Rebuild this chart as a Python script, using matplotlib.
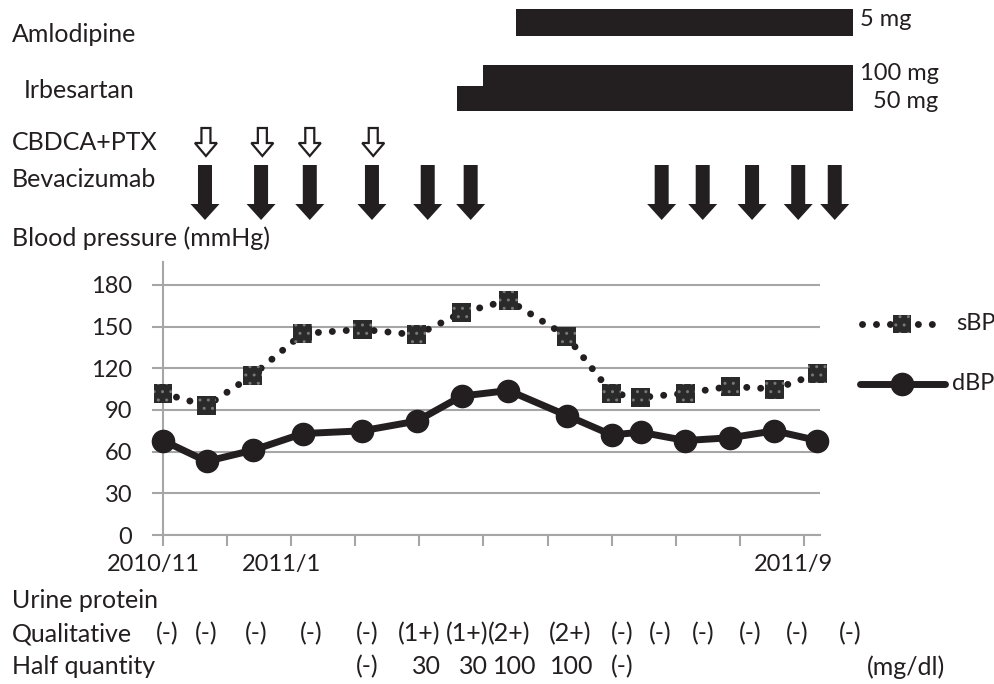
import matplotlib
matplotlib.use("Agg")
import matplotlib.pyplot as plt
import matplotlib.transforms as mtransforms
from matplotlib.patches import Rectangle, Polygon

plt.rcParams['font.family'] = ['Lato', 'DejaVu Sans']

# time in months from 2010/11/1
visit_month = [0.0, 0.68, 1.40, 2.18, 3.11, 3.96, 4.66, 5.39, 6.30, 7.00, 7.45, 8.15, 8.85, 9.54, 10.21]
sbp = [102, 93, 115, 145, 148, 144, 160, 169, 143, 102, 99, 102, 107, 105, 116]
dbp = [68, 53, 61, 73, 75, 82, 100, 104, 86, 72, 74, 68, 70, 75, 68]

month_ticks = list(range(11))
month_labels = ['2010/11', '', '2011/1', '', '', '', '', '', '', '', '2011/9']

bev_month = [0.655, 1.53, 2.29, 3.26, 4.13, 4.80, 7.78, 8.42, 9.19, 9.91, 10.48]
cbdca_month = [0.67, 1.55, 2.29, 3.28]

amlo_start, amlo_end = 5.51, 10.76
irb50_start, irb100_start, irb_end = 4.59, 4.99, 10.76

qual = ['(-)', '(-)', '(-)', '(-)', '(-)', '(1+)', '(1+)', '(2+)', '(2+)',
        '(-)', '(-)', '(-)', '(-)', '(-)', '(-)']
half = ['', '', '', '', '(-)', '30', '30', '100', '100', '(-)', '', '', '', '', '']
# text columns of the urine table, in pixels from the left
qual_px = [167, 206, 256, 311, 367, 419, 467, 509, 570, 622, 660, 703, 750, 797, 850]
half_px = [167, 206, 256, 311, 367, 426, 473, 515, 572, 622, 660, 703, 750, 797, 850]

W, H = 995, 684
dark = '#231f20'
grid_col = '#a6a6a6'
dots = (0, (0.01, 2.0))

fig = plt.figure(figsize=(W / 100, H / 100), dpi=100)

# main blood pressure chart
ax = fig.add_axes([163 / W, 149 / H, 657 / W, 273 / H])
ax.set_xlim(0, 10.25)
ax.set_ylim(0, 196.5)
ax.set_yticks(range(0, 181, 30))
ax.yaxis.grid(True, color=grid_col, lw=1.5)
ax.set_axisbelow(True)
for s in ['top', 'right']:
    ax.spines[s].set_visible(False)
for s in ['left', 'bottom']:
    ax.spines[s].set_color(grid_col)
    ax.spines[s].set_linewidth(1.5)
ax.set_xticks(month_ticks)
ax.set_xticklabels(month_labels)
ax.tick_params(axis='both', length=8, width=1.5, color=grid_col, labelsize=17,
               labelcolor=dark)
ax.tick_params(axis='y', pad=14)
ax.tick_params(axis='x', pad=6)
shift = mtransforms.ScaledTranslation(-10 / 100, 0, fig.dpi_scale_trans)
for lab in ax.get_xticklabels():
    lab.set_transform(lab.get_transform() + shift)

ax.plot(visit_month, sbp, color=dark, lw=5, linestyle=dots,
        dash_capstyle='round', zorder=3, clip_on=False)
ax.scatter(visit_month, sbp, marker='s', s=185, facecolor='#2a2a2a', edgecolor='#777777',
           linewidths=0, hatch='..', zorder=4, clip_on=False)
ax.plot(visit_month, dbp, color=dark, lw=5, marker='o', ms=16, zorder=5, clip_on=False)

# treatment band on top, shares the month scale
top = fig.add_axes([163 / W, (H - 230) / H, 657 / W, 230 / H], sharex=ax)
top.set_ylim(230, 0)
top.axis('off')

top.add_patch(Rectangle((amlo_start, 9), amlo_end - amlo_start, 27, color=dark, lw=0, clip_on=False))
top.add_patch(Rectangle((irb100_start, 65), irb_end - irb100_start, 23, color=dark, lw=0, clip_on=False))
top.add_patch(Rectangle((irb50_start, 86), irb_end - irb50_start, 25, color=dark, lw=0, clip_on=False))

px = 10.25 / 657  # months per pixel


def arrow(c, y0, y1, y2, shaft, head, **kw):
    hs, hh = shaft / 2 * px, head / 2 * px
    pts = [(c - hs, y0), (c + hs, y0), (c + hs, y1), (c + hh, y1), (c, y2), (c - hh, y1), (c - hs, y1)]
    top.add_patch(Polygon(pts, closed=True, clip_on=False, **kw))


for c in bev_month:
    arrow(c, 165, 204, 220, 14, 29, facecolor=dark, edgecolor='none')
for c in cbdca_month:
    arrow(c, 128, 143, 156, 9, 22, facecolor='white', edgecolor=dark, lw=1.6, joinstyle='miter')


# texts in pixel coordinates
def ftext(x, y, s, size=18, **kw):
    fig.text(x / W, 1 - y / H, s, va='center', color=dark, fontsize=size, **kw)


ftext(12, 35, 'Amlodipine')
ftext(24, 91, 'Irbesartan')
ftext(12, 143, 'CBDCA+PTX')
ftext(12, 180, 'Bevacizumab')
ftext(12, 238, 'Blood pressure (mmHg)')
ftext(860, 20, '5 mg', size=17)
ftext(860, 73, '100 mg', size=17)
ftext(873, 101, '50 mg', size=17)
ftext(12, 601, 'Urine protein')
ftext(12, 634, 'Qualitative')
ftext(12, 667, 'Half quantity')
ftext(867, 667, '(mg/dl)')
for xp, s in zip(qual_px, qual):
    ftext(xp, 634, s, ha='center')
for xp, s in zip(half_px, half):
    if s:
        ftext(xp, 667, s, ha='center')

# legend
leg = fig.add_axes([0, 0, 1, 1])
leg.set_xlim(0, W)
leg.set_ylim(H, 0)
leg.axis('off')
leg.plot([862, 937], [324, 324], color=dark, lw=5, linestyle=dots, dash_capstyle='round')
leg.scatter([902], [324], marker='s', s=185, facecolor='#2a2a2a', edgecolor='#777777',
            linewidths=0, hatch='..', zorder=4)
leg.plot([860, 945], [384, 384], color=dark, lw=5, solid_capstyle='round')
leg.plot([902], [384], 'o', color=dark, ms=16)
ftext(956, 324, 'sBP', size=17)
ftext(952, 384, 'dBP', size=17)

fig.savefig('out.png', dpi=100)
